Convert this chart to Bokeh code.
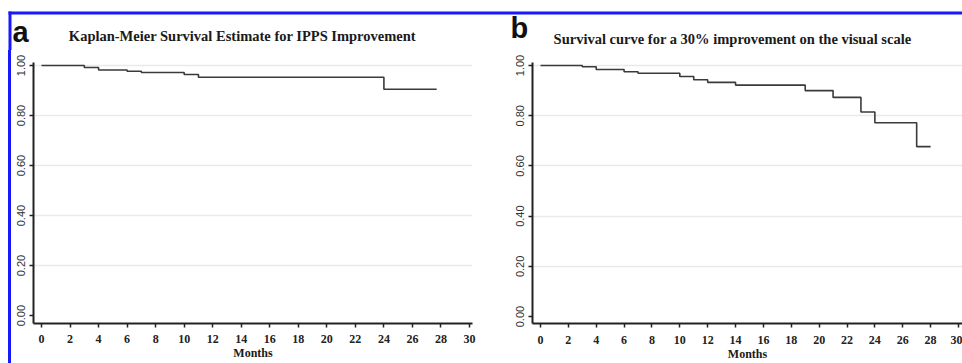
from bokeh.plotting import figure
from bokeh.models import Label, FixedTicker, Range1d, Div, Spacer, NumeralTickFormatter, BoxAnnotation
from bokeh.layouts import row, column
from bokeh.embed import file_html
from bokeh.resources import INLINE

# ---- data ----
months_a = [0, 3, 4, 6, 7, 10, 11, 24, 27.7]
surv_a = [1.00, 0.992, 0.982, 0.977, 0.972, 0.964, 0.953, 0.905, 0.905]

months_b = [0, 3, 4, 6, 7, 10, 11, 12, 14, 19, 21, 23, 24, 27, 28]
surv_b = [1.00, 0.995, 0.984, 0.975, 0.969, 0.956, 0.943, 0.933, 0.922,
          0.900, 0.873, 0.815, 0.772, 0.677, 0.677]

x_ticks = list(range(0, 31, 2))
y_ticks = [0.0, 0.2, 0.4, 0.6, 0.8, 1.0]
grid_ticks = [0.2, 0.4, 0.6, 0.8, 1.0]

letter_a = "a"
letter_b = "b"
title_a = "Kaplan-Meier Survival Estimate for IPPS Improvement"
title_b = "Survival curve for a 30% improvement on the visual scale"
x_label = "Months"

BLUE = "#1818ff"
LINE = "#3a3a3a"
AXIS = "#222222"


def make_panel(width, height, xr, yr, mb, xs, ys, tick_standoff, label_standoff):
    p = figure(width=width, height=height, x_range=Range1d(*xr), y_range=Range1d(*yr),
               output_backend="svg", toolbar_location=None, title=None,
               min_border_left=mb[0], min_border_right=mb[1],
               min_border_top=mb[2], min_border_bottom=mb[3])
    p.outline_line_color = None
    p.xgrid.grid_line_color = None
    p.ygrid.ticker = FixedTicker(ticks=grid_ticks)
    p.ygrid.grid_line_color = "#e9e9e9"
    p.ygrid.grid_line_width = 1.5

    p.xaxis.ticker = FixedTicker(ticks=x_ticks)
    p.yaxis.ticker = FixedTicker(ticks=y_ticks)
    p.yaxis.formatter = NumeralTickFormatter(format="0.00")
    for ax in (p.xaxis, p.yaxis):
        ax.axis_line_color = AXIS
        ax.axis_line_width = 2
        ax.major_tick_line_color = AXIS
        ax.major_tick_line_width = 1.5
        ax.major_tick_in = 0
        ax.major_tick_out = 4
        ax.minor_tick_line_color = None
    p.xaxis.major_label_text_font = "Liberation Serif"
    p.xaxis.major_label_text_font_style = "bold"
    p.xaxis.major_label_text_font_size = "12px"
    p.xaxis.major_label_text_color = "#222222"
    p.xaxis.major_label_standoff = tick_standoff
    p.xaxis.axis_label = x_label
    p.xaxis.axis_label_text_font = "Liberation Serif"
    p.xaxis.axis_label_text_font_style = "bold"
    p.xaxis.axis_label_text_font_size = "12px"
    p.xaxis.axis_label_text_color = "#1a1a1a"
    p.xaxis.axis_label_standoff = label_standoff
    p.yaxis.major_label_text_font = "Liberation Sans"
    p.yaxis.major_label_text_font_size = "11px"
    p.yaxis.major_label_text_color = "#333333"
    p.yaxis.major_label_orientation = "vertical"
    p.yaxis.major_label_standoff = 4

    p.step(xs, ys, mode="after", line_color=LINE, line_width=1.6)
    return p


p1 = make_panel(470, 313, (-0.561, 30.21), (-0.0316, 1.012), (22, 9, 12, 37),
                months_a, surv_a, 7, 0)
p2 = make_panel(481, 313, (-0.574, 30.29), (-0.0276, 1.012), (51, 0, 9, 40),
                months_b, surv_b, 8, 0)

# header strip (coordinates = page pixels): blue frame corner, panel letters, titles
head = figure(width=962, height=50, x_range=Range1d(0, 962), y_range=Range1d(50, 0),
              output_backend="svg", toolbar_location=None, title=None,
              x_axis_location=None, y_axis_location=None, min_border=0)
head.outline_line_color = None
head.grid.visible = False
head.add_layout(BoxAnnotation(left=8, right=962, top=11, bottom=14,
                              fill_color=BLUE, fill_alpha=1, line_color=None))
head.add_layout(BoxAnnotation(left=8, right=11, top=11, bottom=50,
                              fill_color=BLUE, fill_alpha=1, line_color=None))
for txt, x, y in ((letter_a, 12, 31), (letter_b, 510, 27)):
    head.add_layout(Label(x=x, y=y, text=txt, text_font="Liberation Sans",
                          text_font_style="bold", text_font_size="29px",
                          text_color="#111111", text_align="left",
                          text_baseline="alphabetic"))
for txt, x, y in ((title_a, 242, 35), (title_b, 732, 38)):
    head.add_layout(Label(x=x, y=y, text=txt, text_font="Liberation Serif",
                          text_font_style="bold", text_font_size="14.5px",
                          text_color="#1a1a1a", text_align="center",
                          text_baseline="middle"))

left_space = Spacer(width=8, height=313, margin=0)
left_line = Div(text="", width=3, height=313, margin=0,
                styles={"background-color": BLUE})

layout = column(head, row(left_space, left_line, p1, p2, spacing=0), spacing=0)

open("out.html", "w").write(file_html(layout, INLINE))
